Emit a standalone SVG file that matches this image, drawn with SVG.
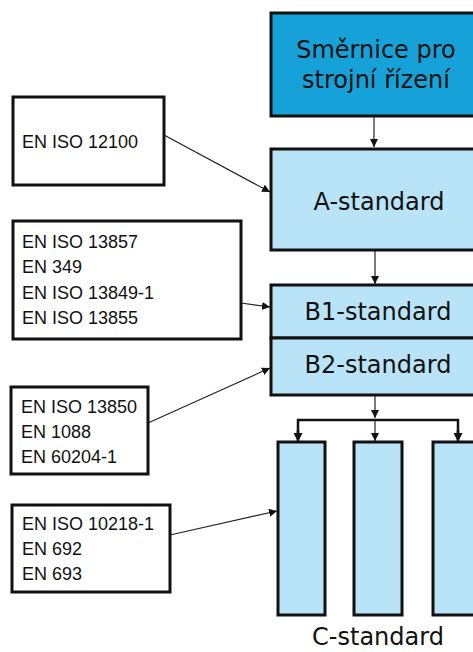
<svg xmlns="http://www.w3.org/2000/svg" width="473" height="652" viewBox="0 0 473 652">
<style>
.box{fill:#ffffff;stroke:#111;stroke-width:3}
.lb{fill:#b9e3f7;stroke:#111;stroke-width:3}
.db{fill:#16a2d8;stroke:#111;stroke-width:3}
.big{font-family:"DejaVu Sans",sans-serif;font-size:24px;fill:#111;text-anchor:middle}
.sm{font-family:"Liberation Sans",Arial,sans-serif;font-size:18px;fill:#111}
.ln{stroke:#222;stroke-width:1.2;fill:none}
.th{stroke:#111;stroke-width:2.5;fill:none}
</style>
<defs>
<marker id="ah" viewBox="0 0 10 10" refX="10" refY="5" markerWidth="8" markerHeight="8" markerUnits="userSpaceOnUse" orient="auto">
<path d="M0,0 L10,5 L0,10 z" fill="#111"/>
</marker>
<marker id="ah2" viewBox="0 0 10 10" refX="10" refY="5" markerWidth="9" markerHeight="9" markerUnits="userSpaceOnUse" orient="auto">
<path d="M0,0 L10,5 L0,10 z" fill="#111"/>
</marker>
</defs>
<g id="connectors">
<line class="ln" x1="374" y1="117" x2="374" y2="147" marker-end="url(#ah)"/>
<line class="ln" x1="375" y1="251" x2="375" y2="284" marker-end="url(#ah)"/>
<line class="ln" x1="375" y1="388" x2="375" y2="418" marker-end="url(#ah)"/>
<path class="th" d="M298,436 L298,420 L458,420 L458,436"/>
<line x1="298" y1="430" x2="298" y2="442" class="th" marker-end="url(#ah2)"/>
<line x1="458" y1="430" x2="458" y2="442" class="th" marker-end="url(#ah2)"/>
<line class="ln" x1="375" y1="420" x2="375" y2="441" marker-end="url(#ah)"/>
<line class="ln" x1="164" y1="135" x2="270" y2="192" marker-end="url(#ah)"/>
<line class="ln" x1="241" y1="303" x2="270" y2="307" marker-end="url(#ah)"/>
<line class="ln" x1="148" y1="423" x2="270" y2="368" marker-end="url(#ah)"/>
<line class="ln" x1="170" y1="535" x2="277" y2="511" marker-end="url(#ah)"/>
</g>
<g id="smernice">
<rect class="db" x="271" y="13" width="210" height="103"/>
<text class="big" x="376" y="58">Směrnice pro</text>
<text class="big" x="376" y="88">strojní řízení</text>
</g>
<g id="a-standard">
<rect class="lb" x="271" y="149" width="210" height="101"/>
<text class="big" x="379" y="210">A-standard</text>
</g>
<g id="b1-standard">
<rect class="lb" x="271" y="285" width="210" height="53"/>
<text class="big" x="378" y="320">B1-standard</text>
</g>
<g id="b2-standard">
<rect class="lb" x="271" y="338" width="210" height="57"/>
<text class="big" x="378" y="373">B2-standard</text>
</g>
<g id="c1"><rect class="lb" x="278" y="442" width="47" height="173"/></g>
<g id="c2"><rect class="lb" x="354" y="442" width="48" height="173"/></g>
<g id="c3"><rect class="lb" x="433" y="442" width="50" height="173"/></g>
<g id="c-label"><text class="big" x="378" y="645">C-standard</text></g>
<g id="box-12100">
<rect class="box" x="13" y="97" width="151" height="88"/>
<text class="sm" x="22" y="148">EN ISO 12100</text>
</g>
<g id="box-b1">
<rect class="box" x="13" y="221" width="228" height="118"/>
<text class="sm" x="22" y="248">EN ISO 13857</text>
<text class="sm" x="22" y="273">EN 349</text>
<text class="sm" x="22" y="299">EN ISO 13849-1</text>
<text class="sm" x="22" y="324">EN ISO 13855</text>
</g>
<g id="box-b2">
<rect class="box" x="11" y="387" width="137" height="87"/>
<text class="sm" x="21" y="413">EN ISO 13850</text>
<text class="sm" x="21" y="438">EN 1088</text>
<text class="sm" x="21" y="463">EN 60204-1</text>
</g>
<g id="box-c">
<rect class="box" x="12" y="505" width="158" height="87"/>
<text class="sm" x="22" y="530">EN ISO 10218-1</text>
<text class="sm" x="22" y="555">EN 692</text>
<text class="sm" x="22" y="580">EN 693</text>
</g>
</svg>
